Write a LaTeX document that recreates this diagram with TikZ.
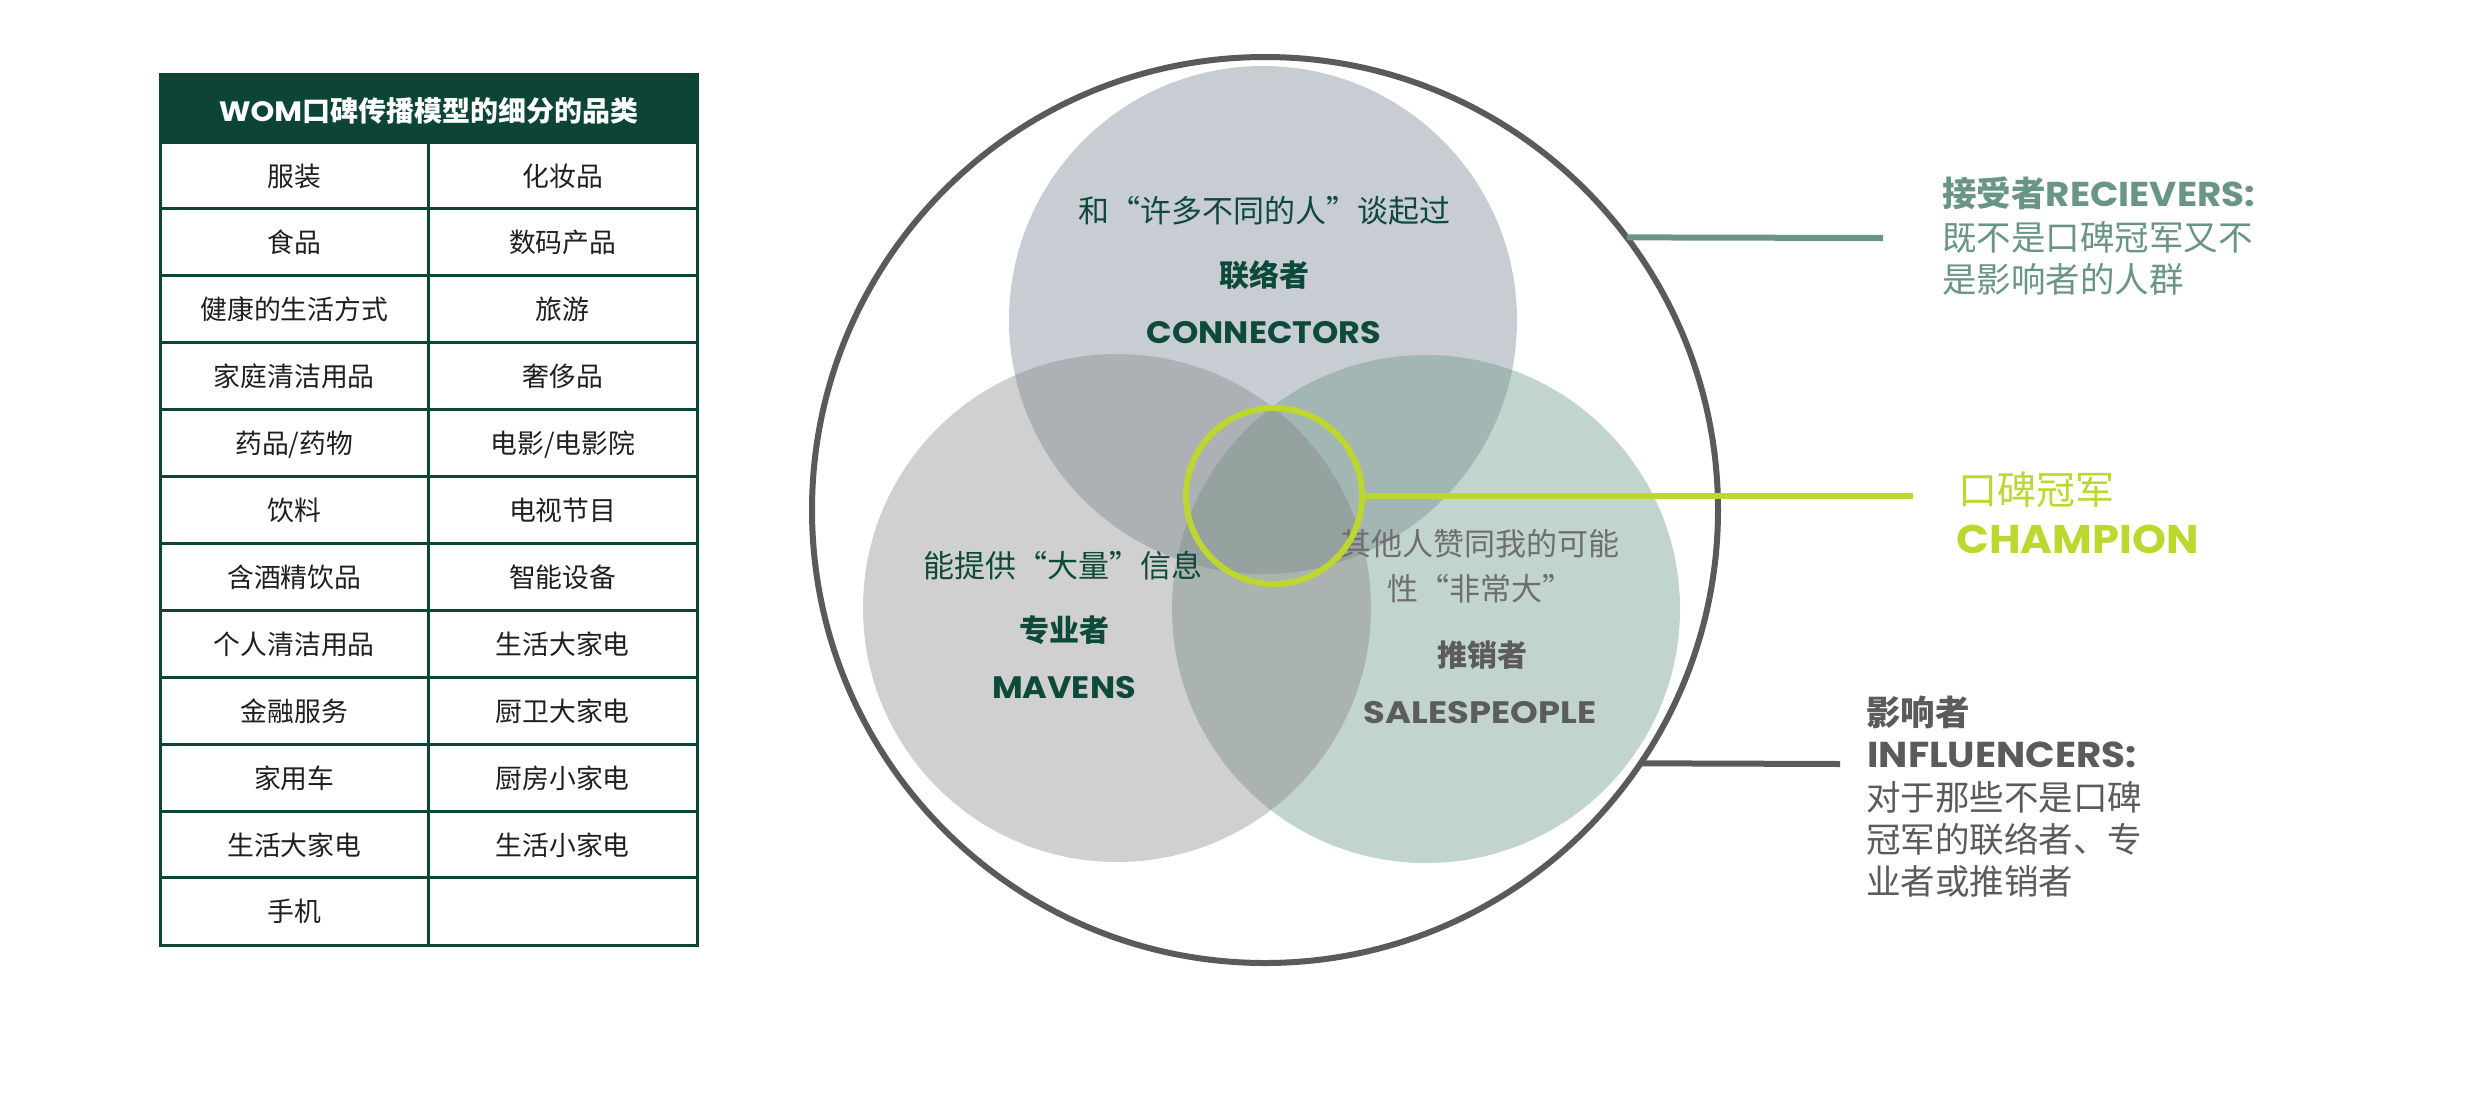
\documentclass[tikz,border=0pt]{standalone}
\usepackage{fontspec}
\setmainfont{Noto Sans CJK SC}
\newfontfamily\pop{Poppins}[FakeStretch=1.08]
\newfontfamily\popw{Poppins}[FakeStretch=1.14]
\newcommand\fsz[1]{\fontsize{#1}{#1}\selectfont}
\definecolor{hdrc}{HTML}{0C4535}
\definecolor{tabtext}{HTML}{1F1F1F}
\definecolor{dgreen}{HTML}{0D4A39}
\definecolor{cT}{HTML}{C8CDD4}
\definecolor{cL}{HTML}{D0D0D0}
\definecolor{cR}{HTML}{C2D4CE}
\definecolor{cTL}{HTML}{ADB0B5}
\definecolor{cTR}{HTML}{A2B6B3}
\definecolor{cLR}{HTML}{AAB3B0}
\definecolor{cTLR}{HTML}{96A2A0}
\definecolor{limec}{HTML}{BED72F}
\definecolor{recvc}{HTML}{6A9584}
\definecolor{infc}{HTML}{5B5B5B}
\definecolor{outc}{HTML}{5A5A5A}
\definecolor{salesc}{HTML}{5C5C5C}
\definecolor{salesl}{HTML}{6E6E6E}
\begin{document}
\begin{tikzpicture}[x=0.5pt,y=-0.5pt,
  tcell/.style={anchor=base, inner sep=0pt, text=tabtext, font=\fsz{13.4pt}},
  hdrtxt/.style={anchor=base, inner sep=0pt, text=white, font=\fsz{14pt}\bfseries},
  ctxt/.style={anchor=base, inner sep=0pt, font=\fsz{15.5pt}},
  cbold/.style={anchor=base, inner sep=0pt, font=\fsz{15pt}\bfseries},
  clat/.style={anchor=base, inner sep=0pt, font=\pop\bfseries\fsz{15.5pt}},
  rtxt/.style={anchor=base west, inner sep=0pt, font=\fsz{17.25pt}},
  rlat/.style={anchor=base west, inner sep=0pt, font=\pop\bfseries\fsz{18pt}},
  tblline/.style={draw=hdrc, line width=1.5pt},
  bigc/.style={circle, inner sep=0pt, outer sep=0pt}
]
\fill[white] (0,0) rectangle (2480,1094);
\useasboundingbox (0,0) rectangle (2480,1094);

% ---------- table ----------
\fill[hdrc] (160,74) rectangle (697,142);
\foreach \i in {0,...,11} \draw[tblline] (160,{142+66.9*\i}) -- (697,{142+66.9*\i});
\draw[tblline] (428.5,142) -- (428.5,945);
\draw[tblline] (160,74) rectangle (697,945);
\node[hdrtxt] (hdr) at (428.5,121.5) {{\pop WOM}口碑传播模型的细分的品类};
\foreach \t [count=\i from 0] in {服装,食品,健康的生活方式,家庭清洁用品,药品/药物,饮料,含酒精饮品,个人清洁用品,金融服务,家用车,生活大家电,手机}
  \node[tcell] (L\i) at (294.25,{186+66.9*\i}) {\t};
\foreach \t [count=\i from 0] in {化妆品,数码产品,旅游,奢侈品,电影/电影院,电视节目,智能设备,生活大家电,厨卫大家电,厨房小家电,生活小家电}
  \node[tcell] (R\i) at (562.75,{186+66.9*\i}) {\t};

% ---------- venn ----------
\fill[cL] (1117,608) circle[radius=254];
\fill[cR] (1426,609) circle[radius=254];
\fill[cT] (1263,320) circle[radius=254];
\begin{scope}
  \clip (1263,320) circle[radius=254];
  \fill[cTL] (1117,608) circle[radius=254];
  \fill[cTR] (1426,609) circle[radius=254];
\end{scope}
\begin{scope}
  \clip (1117,608) circle[radius=254];
  \fill[cLR] (1426,609) circle[radius=254];
\end{scope}
\begin{scope}
  \clip (1263,320) circle[radius=254];
  \clip (1117,608) circle[radius=254];
  \fill[cTLR] (1426,609) circle[radius=254];
\end{scope}

\node[bigc, draw=outc, line width=3pt, minimum size=453pt] (outer) at (1265,510) {};

% circle texts
\node[ctxt, text=dgreen] (ct1) at (1264,222) {和“许多不同的人”谈起过};
\node[cbold, text=dgreen] (ct2) at (1264,286) {联络者};
\node[clat, text=dgreen] (ct3) at (1264,343.5) {CONNECTORS};

\node[ctxt, text=dgreen] (lt1) at (1063,577) {能提供“大量”信息};
\node[cbold, text=dgreen] (lt2) at (1064,641) {专业者};
\node[clat, text=dgreen] (lt3) at (1064,698) {MAVENS};

\node[ctxt, text=salesl] (rt1) at (1480,555) {其他人赞同我的可能};
\node[ctxt, text=salesl] (rt2) at (1480,600) {性“非常大”};
\node[cbold, text=salesc] (rt3) at (1482,666) {推销者};
\node[clat, text=salesc, font=\popw\bfseries\fsz{15.5pt}] (rt4) at (1480,723.5) {SALESPEOPLE};

\node[bigc, draw=limec, line width=3pt, minimum size=88pt] (champ) at (1274,496) {};

% ---------- connectors ----------
\coordinate (recvEnd) at (1883,238);
\coordinate (champEnd) at (1913,496);
\coordinate (infEnd) at (1840,764);
\draw[recvc, line width=3pt] (outer.37) -- (recvEnd);
\draw[limec, line width=2.8pt] (champ.east) -- (champEnd);
\draw[infc, line width=3pt] (outer.-34) -- (infEnd);

% ---------- right labels ----------
\node[rtxt, text=recvc] (rv1) at (1942,206) {{\bfseries 接受者}{\pop\bfseries RECIEVERS:}};
\node[rtxt, text=recvc] (rv2) at (1942,250) {既不是口碑冠军又不};
\node[rtxt, text=recvc] (rv3) at (1942,292) {是影响者的人群};

\node[rtxt, text=limec, font=\fsz{19.5pt}] (cp1) at (1958,504) {口碑冠军};
\node[rlat, text=limec, font=\pop\bfseries\fsz{20pt}] (cp2) at (1956,553) {CHAMPION};

\node[rtxt, text=infc, font=\fsz{17.25pt}\bfseries] (in1) at (1866,725) {影响者};
\node[rlat, text=infc] (in2) at (1867,767) {INFLUENCERS:};
\node[rtxt, text=infc] (in3) at (1866,810) {对于那些不是口碑};
\node[rtxt, text=infc] (in4) at (1866,852) {冠军的联络者、专};
\node[rtxt, text=infc] (in5) at (1866,894) {业者或推销者};
\end{tikzpicture}
\end{document}
